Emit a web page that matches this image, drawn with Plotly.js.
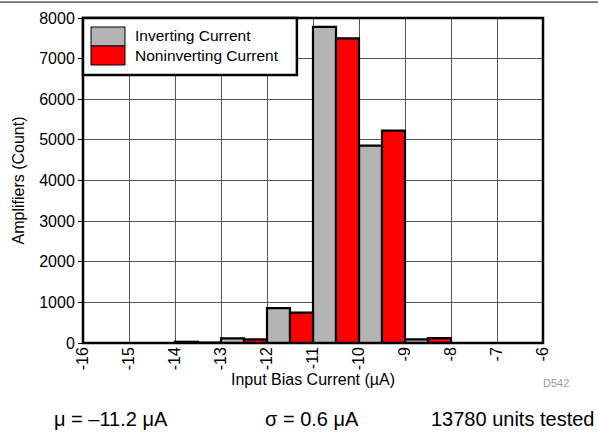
<!DOCTYPE html>
<html>
<head>
<meta charset="utf-8">
<script src="https://cdn.plot.ly/plotly-3.0.1.min.js"></script>
<style>html,body{margin:0;padding:0;background:#fff;}#chart{width:598px;height:434px;}</style>
</head>
<body>
<div id="chart"></div>
<script>
// Bin centers (µA), each bin 1 µA wide
const binCenters = [-15.5, -14.5, -13.5, -12.5, -11.5, -10.5, -9.5, -8.5, -7.5, -6.5];
const invertingCounts = [0, 0, 30, 115, 860, 7780, 4860, 90, 0, 0];
const noninvertingCounts = [0, 0, 10, 90, 750, 7500, 5230, 120, 0, 0];
const xTickVals = [-16, -15, -14, -13, -12, -11, -10, -9, -8, -7, -6];
const yTickVals = [0, 1000, 2000, 3000, 4000, 5000, 6000, 7000, 8000];
const seriesNames = ['Inverting Current', 'Noninverting Current'];
const footerTexts = ['μ = –11.2 μA', 'σ = 0.6 μA', '13780 units tested'];

const FONT = 'Liberation Sans, Arial, sans-serif';
const traces = [
  {type: 'bar', name: seriesNames[0], x: binCenters, y: invertingCounts,
   marker: {color: '#b4b4b4', line: {color: '#000', width: 2.2}}, showlegend: false},
  {type: 'bar', name: seriesNames[1], x: binCenters, y: noninvertingCounts,
   marker: {color: '#ff0000', line: {color: '#000', width: 2.2}}, showlegend: false}
];

const shapes = [
  // top rule across the page
  {type: 'line', xref: 'paper', yref: 'paper', x0: -0.19, x1: 1.2, y0: 1.049, y1: 1.049, line: {color: '#000', width: 1}},
  // plot frame
  {type: 'rect', xref: 'paper', yref: 'paper', x0: 0, x1: 1, y0: 0, y1: 1, line: {color: '#000', width: 2.5}, layer: 'above'},
  // legend box
  {type: 'rect', xref: 'paper', yref: 'paper', x0: 0, x1: 0.465, y0: 0.825, y1: 1, fillcolor: '#fff', line: {color: '#000', width: 2.5}, layer: 'above'},
  {type: 'rect', xref: 'paper', yref: 'paper', x0: 0.0174, x1: 0.0913, y0: 0.9138, y1: 0.9723, fillcolor: '#b4b4b4', line: {color: '#000', width: 1}, layer: 'above'},
  {type: 'rect', xref: 'paper', yref: 'paper', x0: 0.0174, x1: 0.0913, y0: 0.8554, y1: 0.9138, fillcolor: '#ff0000', line: {color: '#000', width: 1}, layer: 'above'}
];

const annotations = [
  {xref: 'paper', yref: 'paper', x: 0.108, y: 0.945, text: seriesNames[0], showarrow: false, xanchor: 'left', yanchor: 'middle', font: {family: FONT, size: 15.5, color: '#000'}},
  {xref: 'paper', yref: 'paper', x: 0.108, y: 0.884, text: seriesNames[1], showarrow: false, xanchor: 'left', yanchor: 'middle', font: {family: FONT, size: 15.5, color: '#000'}},
  {xref: 'paper', yref: 'paper', x: 0.995, y: -0.123, text: 'D542', showarrow: false, xanchor: 'left', yanchor: 'middle', font: {family: FONT, size: 11, color: '#999'}},
  {xref: 'paper', yref: 'paper', x: -0.068, y: -0.234, text: footerTexts[0], showarrow: false, xanchor: 'left', yanchor: 'middle', font: {family: FONT, size: 20, color: '#000'}},
  {xref: 'paper', yref: 'paper', x: 0.391, y: -0.234, text: footerTexts[1], showarrow: false, xanchor: 'left', yanchor: 'middle', font: {family: FONT, size: 20, color: '#000'}},
  {xref: 'paper', yref: 'paper', x: 1.115, y: -0.234, text: footerTexts[2], showarrow: false, xanchor: 'right', yanchor: 'middle', font: {family: FONT, size: 20, color: '#000'}}
];

const layout = {
  width: 598, height: 434,
  margin: {l: 83, r: 55, t: 18, b: 91, pad: 0},
  paper_bgcolor: '#fff', plot_bgcolor: '#fff',
  barmode: 'group', bargap: 0, bargroupgap: 0,
  font: {family: FONT, size: 16, color: '#000'},
  xaxis: {
    range: [-16, -6], tickvals: xTickVals, ticktext: xTickVals.map(String),
    tickangle: -90, showgrid: true, gridcolor: '#555', gridwidth: 1,
    zeroline: false, showline: false, ticks: '', ticklen: 0,
    tickfont: {family: FONT, size: 16, color: '#000'},
    title: {text: 'Input Bias Current (µA)', font: {family: FONT, size: 16, color: '#000'}, standoff: 4},
    fixedrange: true
  },
  yaxis: {
    range: [0, 8000], tickvals: yTickVals, ticktext: yTickVals.map(String),
    showgrid: true, gridcolor: '#555', gridwidth: 1,
    zeroline: false, showline: false, ticks: 'outside', ticklen: 4, tickcolor: '#000',
    tickfont: {family: FONT, size: 16, color: '#000'},
    title: {text: 'Amplifiers (Count)', font: {family: FONT, size: 16, color: '#000'}, standoff: 10},
    fixedrange: true
  },
  shapes: shapes,
  annotations: annotations,
  showlegend: false
};

Plotly.newPlot('chart', traces, layout, {displayModeBar: false, staticPlot: true});
</script>
</body>
</html>
